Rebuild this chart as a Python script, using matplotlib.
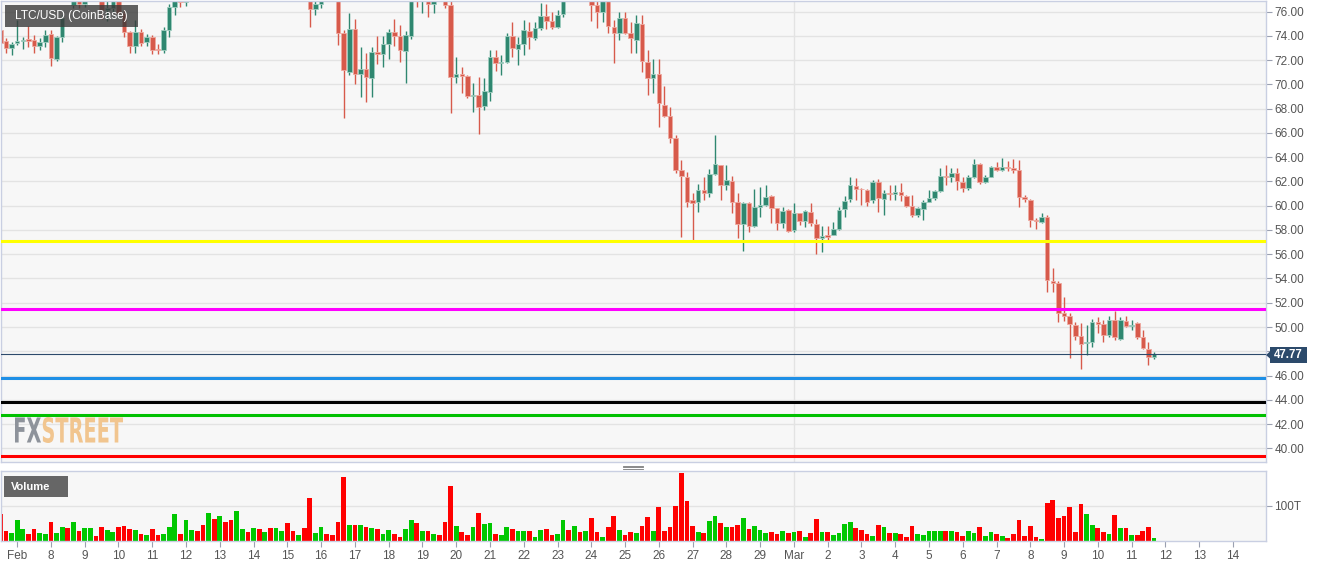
import datetime

import matplotlib
matplotlib.use("Agg")
import matplotlib.pyplot as plt
import numpy as np
from matplotlib.font_manager import FontProperties
from matplotlib.lines import Line2D
from matplotlib.patches import Rectangle, Polygon, PathPatch
from matplotlib.textpath import TextPath, text_to_path
from matplotlib.transforms import Affine2D

# 4-hour LTC/USD candles, first one at Feb 6 12:00
OPEN = [74.5, 73.6, 73.0, 73.4, 73.6, 73.75, 73.7, 73.2, 73.5, 74.2, 72.1, 73.9, 78.0, 76.55, 77.1, 76.6,
        77.0, 78.0, 77.5, 76.1, 76.3, 76.9, 75.9, 74.3, 73.2, 74.3, 73.5, 73.9, 72.9, 72.8, 74.5, 76.35,
        77.2, 76.8, 77.1, 78.0, 77.6, 77.3, 78.8, 78.3, 79.3, 78.9, 78.1, 79.6, 80.0, 79.5, 79.9, 79.2,
        79.6, 79.0, 79.3, 79.6, 78.8, 78.2, 78.4, 77.7, 76.2, 76.63, 77.6, 77.3, 77.2, 74.27, 71.05, 74.54,
        70.86, 71.27, 70.5, 72.7, 72.5, 73.33, 74.3, 74.02, 72.78, 74.02, 77.3, 77.05, 77.3, 76.63, 77.5, 77.6,
        76.55, 70.58, 70.86, 70.7, 69.07, 69.1, 68.2, 69.4, 72.29, 71.79, 71.85, 73.99, 72.92, 73.3, 74.4, 73.8,
        74.62, 75.64, 75.2, 74.76, 75.78, 77.8, 77.4, 78.0, 77.5, 77.8, 76.55, 75.94, 77.0, 74.76, 74.21, 75.45,
        74.27, 73.66, 74.98, 71.88, 70.5, 70.86, 68.3, 67.4, 65.56, 62.95, 62.4, 60.47, 60.33, 61.3, 61.02, 62.62,
        63.36, 61.71, 62.04, 60.33, 58.49, 60.2, 58.33, 59.92, 60.06, 60.8, 59.78, 58.6, 59.65, 58.0, 59.37, 58.7,
        59.51, 58.49, 57.31, 57.56, 57.59, 58.11, 59.7, 60.53, 61.63, 61.4, 61.3, 60.47, 61.98, 60.53, 61.08, 60.97,
        61.16, 60.8, 59.98, 59.24, 59.7, 60.34, 60.67, 61.22, 62.48, 62.34, 62.67, 61.99, 61.49, 62.34, 63.42, 61.93,
        62.4, 63.22, 62.95, 63.2, 63.1, 62.95, 60.7, 60.5, 58.83, 58.69, 59.1, 53.8, 53.65, 51.12, 50.93, 50.16,
        49.26, 48.72, 48.79, 50.44, 50.22, 49.31, 50.57, 49.0, 50.52, 50.1, 50.3, 49.15, 48.19, 47.55]
HIGH = [74.6, 73.8, 73.5, 75.3, 73.9, 74.8, 74.05, 73.8, 74.5, 74.5, 74.0, 75.7, 78.3, 77.5, 77.6, 77.5,
        78.4, 78.5, 77.7, 76.9, 77.2, 77.2, 76.1, 74.4, 75.3, 74.6, 74.2, 74.1, 73.3, 74.7, 76.6, 77.3,
        77.5, 77.5, 78.2, 78.3, 77.9, 79.0, 79.5, 79.6, 79.8, 79.1, 79.9, 80.3, 80.2, 80.1, 80.1, 79.8,
        79.9, 79.5, 79.8, 79.9, 79.0, 78.6, 78.6, 78.0, 77.0, 77.4, 78.0, 77.6, 77.5, 74.5, 75.86, 75.37,
        73.1, 72.56, 73.11, 74.0, 74.0, 74.6, 75.37, 74.9, 74.43, 77.6, 77.8, 77.8, 77.6, 77.5, 77.9, 77.9,
        76.9, 72.29, 71.46, 70.78, 70.09, 70.64, 70.5, 72.84, 72.84, 72.43, 74.21, 75.17, 73.94, 75.31, 75.17, 75.17,
        76.74, 76.63, 76.0, 76.14, 77.7, 78.1, 78.3, 78.2, 78.0, 78.0, 77.0, 77.3, 77.2, 75.31, 76.0, 76.0,
        75.17, 75.72, 75.72, 72.84, 72.07, 72.07, 69.87, 68.17, 65.8, 63.8, 62.81, 61.02, 61.79, 62.4, 63.0, 65.83,
        63.36, 63.36, 62.45, 61.08, 60.33, 60.33, 61.35, 61.57, 61.71, 60.88, 59.85, 59.92, 59.7, 60.2, 59.4, 59.65,
        60.2, 58.88, 58.33, 58.33, 58.69, 59.92, 60.8, 62.4, 62.26, 61.5, 61.35, 62.12, 62.2, 61.3, 61.71, 61.71,
        61.85, 60.89, 60.89, 59.9, 60.47, 61.3, 61.3, 63.08, 63.36, 63.08, 63.08, 62.4, 62.54, 63.83, 63.5, 62.55,
        63.3, 63.64, 63.91, 63.72, 63.83, 63.77, 60.89, 60.55, 58.96, 59.37, 59.23, 54.83, 53.82, 52.5, 51.12, 50.44,
        50.3, 50.16, 50.63, 50.85, 50.6, 50.9, 51.34, 50.85, 50.9, 50.57, 50.44, 49.75, 48.79, 47.96]
LOW = [71.0, 72.6, 72.4, 73.25, 72.9, 73.1, 72.6, 72.8, 73.1, 71.5, 71.9, 73.5, 77.0, 76.3, 76.3, 76.4,
       76.9, 77.3, 75.4, 75.2, 76.0, 75.7, 73.9, 72.6, 72.6, 73.2, 73.2, 72.5, 72.5, 72.6, 73.9, 75.7,
       76.4, 76.5, 77.0, 77.4, 77.1, 77.2, 78.0, 78.1, 78.6, 77.8, 77.9, 79.2, 79.3, 79.2, 79.0, 78.9,
       78.8, 78.7, 79.0, 78.6, 78.0, 77.9, 77.5, 74.76, 75.72, 76.27, 77.1, 77.0, 73.25, 67.2, 70.78, 70.04,
       68.99, 68.52, 68.99, 71.68, 71.46, 72.07, 73.17, 71.88, 70.15, 73.72, 76.4, 75.9, 75.53, 75.86, 77.0, 76.3,
       67.67, 70.09, 69.27, 68.85, 67.75, 65.9, 67.9, 68.6, 71.1, 70.78, 71.74, 72.29, 71.6, 72.43, 72.92, 73.66,
       74.49, 74.54, 74.54, 74.62, 75.6, 77.2, 77.2, 77.3, 77.2, 75.26, 74.62, 75.17, 74.21, 71.74, 73.66, 74.2,
       72.62, 72.56, 71.05, 69.13, 69.27, 66.5, 67.3, 65.14, 62.7, 57.45, 59.92, 57.17, 59.51, 60.47, 60.75, 62.53,
       60.47, 61.3, 59.43, 57.31, 56.29, 57.86, 58.27, 59.1, 59.98, 58.6, 58.0, 58.14, 57.86, 57.86, 58.41, 58.27,
       58.33, 56.02, 56.16, 57.17, 57.59, 58.0, 59.1, 60.33, 60.47, 60.06, 60.0, 60.2, 59.5, 59.24, 60.47, 60.47,
       60.4, 59.87, 59.1, 59.1, 58.83, 60.3, 60.47, 61.16, 61.71, 61.99, 61.3, 61.16, 61.3, 62.3, 61.77, 61.9,
       62.35, 62.9, 62.9, 62.85, 62.67, 59.87, 60.34, 58.22, 58.06, 58.55, 52.9, 52.9, 50.44, 50.52, 47.41, 48.93,
       46.51, 47.69, 48.38, 49.53, 48.79, 49.2, 48.93, 48.93, 50.0, 49.75, 48.98, 48.16, 46.86, 47.33]
CLOSE = [73.4, 73.0, 73.3, 73.55, 73.65, 73.6, 73.2, 73.5, 74.1, 72.15, 73.9, 75.45, 77.3, 77.3, 76.6, 77.0,
         78.0, 77.5, 76.1, 76.3, 76.9, 75.9, 74.3, 73.2, 74.3, 73.4, 73.9, 72.85, 72.8, 74.5, 76.35, 77.0,
         76.8, 77.1, 78.0, 77.6, 77.3, 78.8, 78.3, 79.3, 78.9, 78.1, 79.6, 80.0, 79.5, 79.9, 79.2, 79.6,
         79.0, 79.3, 79.6, 78.8, 78.2, 78.4, 77.7, 76.2, 76.63, 77.1, 77.3, 77.2, 74.27, 71.19, 74.57, 70.86,
         71.27, 70.58, 72.65, 72.5, 73.33, 74.3, 74.02, 72.84, 74.07, 77.2, 77.05, 77.4, 76.63, 77.2, 77.1, 76.55,
         70.58, 70.86, 70.7, 69.07, 69.12, 68.11, 69.5, 72.23, 71.79, 71.85, 73.99, 73.03, 73.3, 74.49, 73.88, 74.62,
         75.64, 75.26, 74.76, 75.72, 77.3, 77.4, 78.0, 77.5, 77.8, 76.55, 75.94, 77.0, 74.82, 74.21, 75.45, 74.27,
         73.8, 75.04, 71.93, 70.5, 70.86, 68.44, 67.4, 65.56, 62.95, 62.45, 60.33, 60.25, 61.3, 61.08, 62.62, 63.44,
         61.71, 62.12, 60.33, 58.49, 60.25, 58.33, 59.92, 60.06, 60.75, 59.8, 58.6, 59.6, 57.94, 59.37, 58.77, 59.6,
         58.6, 57.31, 57.5, 57.45, 58.11, 59.65, 60.39, 61.71, 61.38, 61.35, 60.34, 61.98, 60.6, 61.02, 60.97, 61.16,
         60.9, 59.98, 59.24, 59.79, 60.34, 60.67, 61.22, 62.48, 62.34, 62.67, 62.04, 61.49, 62.34, 63.42, 61.93, 62.4,
         63.22, 62.95, 63.22, 63.1, 62.95, 60.7, 60.56, 58.83, 58.77, 59.1, 53.87, 53.65, 51.12, 50.93, 50.24, 49.26,
         48.6, 48.75, 50.44, 50.22, 49.31, 50.57, 49.2, 50.57, 50.08, 50.2, 49.15, 48.24, 47.55, 47.77]
VOLUME = [76, 27, 22, 59, 32, 20, 33, 21, 20, 52, 22, 39, 37, 54, 27, 35, 36, 13, 40, 30, 24, 40, 41, 32,
          29, 19, 15, 32, 17, 19, 38, 76, 20, 58, 30, 28, 43, 80, 62, 71, 52, 60, 84, 32, 23, 37, 33, 24,
          36, 36, 27, 49, 27, 16, 35, 122, 21, 40, 19, 15, 52, 181, 44, 44, 44, 38, 35, 33, 19, 29, 19, 11,
          33, 59, 51, 26, 26, 20, 17, 53, 156, 41, 24, 15, 40, 78, 48, 49, 20, 15, 40, 34, 27, 28, 28, 10,
          31, 34, 15, 19, 58, 29, 41, 25, 28, 63, 25, 10, 40, 70, 31, 16, 24, 22, 41, 66, 26, 95, 26, 38,
          99, 194, 113, 41, 24, 22, 56, 71, 51, 39, 39, 44, 63, 33, 42, 31, 21, 25, 20, 27, 21, 25, 27, 11,
          21, 62, 23, 24, 17, 22, 46, 52, 35, 30, 18, 13, 43, 39, 21, 21, 19, 10, 41, 19, 17, 28, 27, 27,
          27, 26, 24, 13, 27, 21, 38, 14, 23, 19, 14, 6, 19, 58, 12, 41, 9, 4, 106, 117, 65, 69, 95, 24,
          103, 76, 43, 37, 24, 19, 72, 36, 35, 16, 17, 26, 38, 8]

LAST_PRICE = 47.77
# horizontal levels drawn on the chart
LEVELS = [(57.1, "#ffff00"), (51.47, "#ff00ff"), (45.8, "#1e8fe6"),
          (43.85, "#000000"), (42.75, "#00c000"), (39.4, "#ff0000")]
START_DAY = datetime.date(2020, 2, 7)
N_DAYS = 37

W, H = 1331, 566
o = np.array(OPEN)
h = np.array(HIGH)
lo = np.array(LOW)
c = np.array(CLOSE)
t = np.arange(len(c)) / 6 - 0.5
up = c >= o

RED, GREEN = "#d75a4b", "#2f8770"
body_col = np.where(up, GREEN, RED)
edge_col = np.where(up, "#9fcdbf", "#eea89f")

plt.rcParams["font.family"] = ["Liberation Sans", "DejaVu Sans"]
fig = plt.figure(figsize=(W / 100, H / 100), dpi=100)
fig.patch.set_facecolor("white")


def fx(px):
    return px / W


def fy(py):
    return 1 - py / H


ax = fig.add_axes([fx(1), fy(462), fx(1266) - fx(1), fy(1) - fy(462)])
vax = fig.add_axes([fx(1), fy(540.5), fx(1266) - fx(1), fy(471) - fy(540.5)])

xlim = (-0.479, 36.98)
spine_col = "#c9cfe2"
for a in (ax, vax):
    a.set_facecolor("#f7f7f7")
    a.set_xlim(*xlim)
    a.set_axisbelow(True)
    a.grid(axis="y", color="#e3e3e3", lw=1)
    a.axvline(23, color="#e3e3e3", lw=1, zorder=0)
    a.yaxis.tick_right()
    a.tick_params(axis="y", length=4, width=0.8, color="#9aa0b0", labelsize=8.5,
                  labelcolor="#555555", pad=2)
    for s in a.spines.values():
        s.set_color(spine_col)
        s.set_linewidth(1)

# candles
ax.vlines(t, lo, h, colors=body_col, lw=1.0, zorder=2)
ax.bar(t, np.maximum(np.abs(c - o), 0.07), bottom=np.minimum(o, c), width=0.135,
       color=body_col, edgecolor=edge_col, linewidth=0.6, zorder=2.5)

for lvl, col in LEVELS:
    ax.axhline(lvl, color=col, lw=2.2, zorder=3)
ax.axhline(LAST_PRICE, color="#2c4a6b", lw=0.8, zorder=3)

ax.set_ylim(38.87, 76.88)
ax.set_yticks(np.arange(40, 77, 2))
ax.set_yticklabels([f"{v:.2f}" for v in np.arange(40, 77, 2)])
ax.tick_params(axis="x", bottom=False, labelbottom=False)

# volume
vol_col = np.where(up, "#00c800", "#ff0000")
vax.bar(t, VOLUME, width=0.14, color=vol_col, zorder=2)
vax.set_ylim(0, 198.6)
vax.set_yticks([100])
vax.set_yticklabels(["100T"])

days = [START_DAY + datetime.timedelta(days=d) for d in range(N_DAYS)]
labels = [d.strftime("%b") if (d.day == 1 or i == 0) else str(d.day) for i, d in enumerate(days)]
vax.set_xticks(np.arange(N_DAYS))
vax.set_xticklabels(labels)
vax.tick_params(axis="x", length=4, width=0.8, color="#9aa0b0", labelsize=8.5,
                labelcolor="#555555", pad=3)

# title box
fig.add_artist(Rectangle((fx(5), fy(27)), fx(133), 22 / H, transform=fig.transFigure,
                         facecolor="#3a3a3a", alpha=0.8, lw=0))
fig.text(fx(71.5), fy(16), "LTC/USD (CoinBase)", color="white", fontsize=8.6,
         ha="center", va="center")

# volume label
fig.add_artist(Rectangle((fx(4), fy(497)), fx(64), 21 / H, transform=fig.transFigure,
                         facecolor="#666666", lw=0))
fig.text(fx(11), fy(487), "Volume", color="white", fontsize=8, fontweight="bold",
         ha="left", va="center")

# last price tag
fig.add_artist(Rectangle((fx(1270), fy(363)), fx(37), 16 / H, transform=fig.transFigure,
                         facecolor="#2c4a6b", lw=0))
fig.add_artist(Polygon([(fx(1266), fy(355)), (fx(1270.5), fy(351)), (fx(1270.5), fy(359))],
                       transform=fig.transFigure, facecolor="#2c4a6b", lw=0))
fig.text(fx(1288.5), fy(355), f"{LAST_PRICE:.2f}", color="white", fontsize=8.3,
         fontweight="bold", ha="center", va="center")

# panel splitter handle
for yy in (465.5, 467, 468.5):
    fig.add_artist(Line2D([fx(623), fx(643)], [fy(yy), fy(yy)], transform=fig.transFigure,
                          color="#777777", lw=0.6))

# FXSTREET watermark, squeezed to fit the logo box
prop = FontProperties(family="DejaVu Sans", weight="bold", size=20)
full = TextPath((0, 0), "FXSTREET", prop=prop)
ext = full.get_extents()
fx_w = text_to_path.get_text_width_height_descent("FX", prop, ismath=False)[0]
sx = 108 / ext.width
sy = 26 / ext.height
trans = Affine2D().translate(-ext.x0, -ext.y0).scale(sx, sy).translate(15, H - 443)
for txt, x0, col in (("FX", 0, "#8e939b"), ("STREET", fx_w, "#f1c58f")):
    p = TextPath((x0, 0), txt, prop=prop)
    fig.add_artist(PathPatch(p, transform=trans, facecolor=col, lw=0, zorder=1))

fig.savefig("out.png", dpi=100, facecolor="white")
